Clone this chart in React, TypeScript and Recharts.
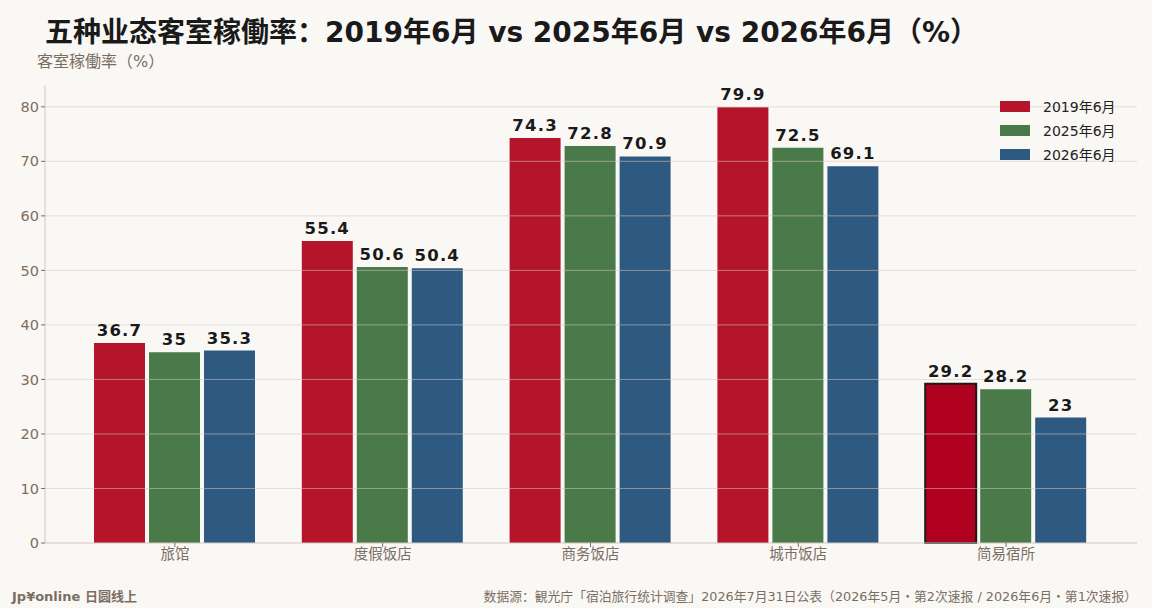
import { Bar, BarChart, Cell, LabelList, ReferenceLine, XAxis, YAxis } from "recharts";

const categories = ["旅馆", "度假饭店", "商务饭店", "城市饭店", "简易宿所"];
const june2019 = [36.7, 55.4, 74.3, 79.9, 29.2];
const june2025 = [35, 50.6, 72.8, 72.5, 28.2];
const june2026 = [35.3, 50.4, 70.9, 69.1, 23];
const yTicks = [0, 10, 20, 30, 40, 50, 60, 70, 80];

const data = categories.map((name, i) => ({
  name,
  y2019: june2019[i],
  y2025: june2025[i],
  y2026: june2026[i],
}));

const FONT = '"DejaVu Sans", "Noto Sans CJK SC", sans-serif';
const BG = "#faf8f5";
const MUTED = "#7a6e62";
const AXIS = "#d3c6be";

const series = [
  { key: "y2019", name: "2019年6月", color: "#b5152b" },
  { key: "y2025", name: "2025年6月", color: "#4a7a4a" },
  { key: "y2026", name: "2026年6月", color: "#2e5a82" },
];

function LegendBox() {
  return (
    <div style={{ position: "absolute", left: 1000, top: 94, fontFamily: FONT, fontSize: 14, color: "#222" }}>
      {series.map((s) => (
        <div key={s.key} style={{ display: "flex", alignItems: "center", height: 24 }}>
          <span style={{ width: 30, height: 11, background: s.color, marginRight: 13 }} />
          <span>{s.name}</span>
        </div>
      ))}
    </div>
  );
}

export default function App() {
  return (
    <div style={{ position: "fixed", left: 0, top: 0, width: 1152, height: 608, background: BG, fontFamily: FONT }}>
      <div style={{ position: "absolute", left: 45, top: 10, fontSize: 28, fontWeight: "bold", color: "#1a1a1a", whiteSpace: "nowrap" }}>
        五种业态客室稼働率：2019年6月 vs 2025年6月 vs 2026年6月（%）
      </div>
      <div style={{ position: "absolute", left: 37, top: 48, fontSize: 16, color: MUTED, whiteSpace: "nowrap" }}>
        客室稼働率（%）
      </div>
      <BarChart
        width={1152}
        height={608}
        data={data}
        margin={{ top: 85, right: 15, left: 0, bottom: 35 }}
        barCategoryGap={23}
        barGap={4}
      >
        <XAxis
          dataKey="name"
          height={30}
          padding={{ left: 26, right: 27 }}
          stroke={AXIS}
          tick={{ fill: MUTED, fontSize: 14.5, fontFamily: FONT }}
          tickLine={{ stroke: MUTED }}
          tickSize={4}
        />
        <YAxis
          width={45}
          domain={[0, 84]}
          ticks={yTicks}
          stroke={AXIS}
          tick={{ fill: MUTED, fontSize: 14.5, fontFamily: FONT }}
          tickLine={{ stroke: MUTED }}
          tickSize={4}
        />
        {series.map((s, si) => (
          <Bar key={s.key} dataKey={s.key} name={s.name} fill={s.color} isAnimationActive={false}>
            {si === 0 &&
              data.map((d, i) => (
                <Cell
                  key={d.name}
                  fill={i === 4 ? "#b00020" : s.color}
                  stroke={i === 4 ? "#1a1a1a" : "none"}
                  strokeWidth={i === 4 ? 2 : 0}
                />
              ))}
            <LabelList
              dataKey={s.key}
              position="top"
              offset={7}
              style={{ fill: "#1a1a1a", fontSize: 16.5, fontWeight: "bold", fontFamily: FONT, letterSpacing: 1.2 }}
            />
          </Bar>
        ))}
        {yTicks.slice(1).map((t) => (
          <ReferenceLine key={t} y={t} stroke="#d9c6c0" strokeOpacity={0.55} strokeWidth={1} />
        ))}
      </BarChart>
      <LegendBox />
      <div style={{ position: "absolute", left: 12, top: 586, fontSize: 13, fontWeight: "bold", color: MUTED, whiteSpace: "nowrap" }}>
        Jp¥online 日圆线上
      </div>
      <div style={{ position: "absolute", right: 15, top: 586, fontSize: 12.8, color: MUTED, whiteSpace: "nowrap" }}>
        数据源：観光庁「宿泊旅行统计调查」2026年7月31日公表（2026年5月・第2次速报 / 2026年6月・第1次速报）
      </div>
    </div>
  );
}
